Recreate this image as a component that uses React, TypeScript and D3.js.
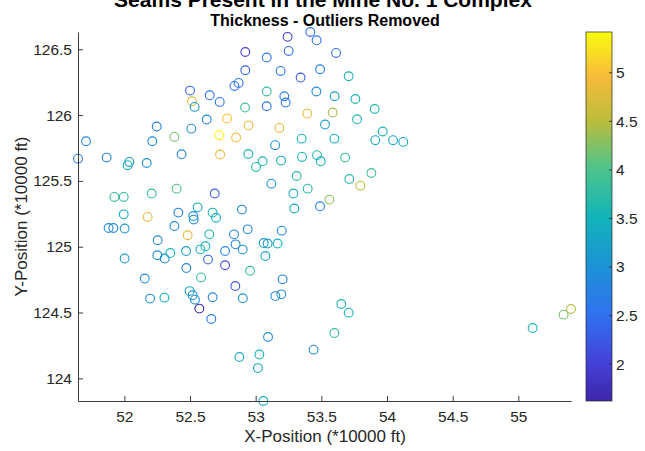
import React, { useEffect, useRef } from "react";
import * as d3 from "d3";

// seam locations (*10000 ft) and thickness
const xPos = [
  52.921, 52.921, 52.838, 52.870, 52.500, 52.650, 52.726, 52.515, 52.535, 52.919, 52.627, 52.782, 52.946, 52.246, 52.510,
  52.381, 52.723, 52.851, 51.708, 52.213, 52.436, 52.729, 52.944, 51.647, 51.865, 52.038, 52.025, 52.170, 53.003, 51.924,
  51.995, 52.208, 52.398, 52.688, 51.995, 52.177, 52.411, 52.525, 52.528, 52.558, 52.672, 52.698, 52.895,
  53.243, 53.416, 53.464, 53.084, 53.251, 53.612, 53.190, 53.342, 53.490, 53.708, 53.084, 53.218, 53.228, 53.462, 53.601,
  53.759, 53.084, 53.393, 53.586, 53.906, 53.772, 53.180, 53.528, 53.350, 53.599, 53.967, 53.911, 54.046, 54.124, 53.148,
  53.053, 53.193, 53.353, 53.467, 53.495, 53.681, 53.312, 53.119, 53.396, 53.287, 53.713, 53.881, 53.797, 53.561, 53.490,
  53.294,
  51.880, 51.916, 52.002, 52.381, 52.647, 52.835, 52.939, 52.482, 52.254, 52.470, 52.579, 52.617, 52.767, 52.847, 52.901,
  52.002, 52.251, 52.307, 52.350, 52.472, 52.637, 52.767, 52.957, 52.584, 52.155, 52.845, 52.196, 52.305, 52.497, 52.520,
  52.538, 52.672, 52.902, 52.571, 52.662, 52.876, 53.028, 53.017,
  53.198, 53.061, 53.091, 53.167, 53.074, 53.205, 53.150, 53.195, 53.652, 53.708, 53.599, 53.094, 53.441, 53.058,
  55.109, 55.345, 55.401,
];

const yPos = [
  126.479, 126.340, 126.221, 126.244, 126.186, 126.150, 126.100, 126.105, 126.062, 126.057, 125.966, 125.973, 125.922, 125.913, 125.897,
  125.834, 125.847, 125.829, 125.801, 125.801, 125.702, 125.700, 125.704, 125.669, 125.677, 125.644, 125.619, 125.636, 125.606, 125.378,
  125.378, 125.404, 125.441, 125.404, 125.246, 125.226, 125.259, 125.233, 125.206, 125.299, 125.259, 125.220, 125.282,
  126.594, 126.631, 126.568, 126.437, 126.487, 126.472, 126.335, 126.285, 126.348, 126.295, 126.179, 126.143, 126.095, 126.179, 126.143,
  126.122, 126.067, 126.011, 126.019, 126.046, 125.968, 125.902, 125.928, 125.821, 125.821, 125.875, 125.809, 125.809, 125.796, 125.771,
  125.649, 125.654, 125.682, 125.695, 125.649, 125.677, 125.537, 125.479, 125.441, 125.404, 125.514, 125.560, 125.464, 125.358, 125.307,
  125.290,
  125.142, 125.142, 125.138, 125.157, 125.094, 125.094, 125.132, 125.087, 125.049, 124.967, 124.980, 125.003, 124.967, 125.018, 124.978,
  124.910, 124.935, 124.910, 124.952, 124.838, 124.902, 124.859, 124.817, 124.767, 124.758, 124.701, 124.606, 124.613, 124.663, 124.631,
  124.598, 124.616, 124.608, 124.530, 124.451, 124.162, 124.181, 124.078,
  125.122, 125.028, 125.024, 125.024, 124.929, 124.752, 124.625, 124.638, 124.565, 124.499, 124.344, 124.314, 124.218, 123.828,
  124.382, 124.484, 124.527,
];

const thickness = [
  2.0, 2.3, 2.5, 2.6, 2.4, 2.5, 2.6, 4.7, 3.1, 3.9, 2.8, 5.0, 4.9, 2.7, 2.9,
  4.2, 5.42, 4.9, 2.8, 3.0, 2.8, 4.9, 3.5, 2.6, 2.8, 3.1, 3.5, 3.0, 3.6, 3.8,
  3.8, 3.8, 4.0, 2.3, 3.4, 4.8, 2.7, 3.0, 2.9, 3.4, 3.6, 3.4, 2.8,
  2.0, 2.5, 2.6, 2.6, 2.5, 2.5, 2.6, 2.3, 2.7, 3.5, 3.8, 2.7, 2.6, 2.9, 3.2,
  3.5, 2.6, 4.8, 4.4, 3.6, 3.6, 4.8, 3.2, 3.5, 3.5, 3.6, 3.3, 3.3, 3.4, 3.0,
  3.6, 3.4, 3.5, 3.7, 3.4, 3.8, 3.7, 3.1, 3.7, 3.5, 3.7, 3.9, 4.5, 4.3, 2.8,
  3.3,
  2.9, 2.9, 3.1, 2.8, 3.6, 2.8, 2.8, 4.8, 2.9, 3.2, 3.6, 3.5, 2.8, 2.8, 3.1,
  3.2, 2.9, 2.9, 3.5, 2.8, 2.4, 2.1, 3.8, 3.8, 2.9, 2.2, 3.0, 3.4, 3.3, 2.9,
  2.9, 2.8, 3.0, 1.62, 2.7, 3.4, 3.5, 3.3,
  2.8, 3.2, 3.2, 3.5, 3.3, 2.8, 2.9, 2.9, 3.6, 3.6, 3.8, 2.9, 2.9, 3.3,
  3.6, 4.2, 4.5,
];

const xTicks = [52, 52.5, 53, 53.5, 54, 54.5, 55];
const yTicks = [124, 124.5, 125, 125.5, 126, 126.5];
const cbTicks = [2, 2.5, 3, 3.5, 4, 4.5, 5];

// parula-ish colormap
const parulaPos = [0, 0.1, 0.23, 0.365, 0.5, 0.63, 0.76, 0.88, 1];
const parulaCol = ["#3e26a8", "#4440d8", "#3070f0", "#1c92d6", "#12b4b8", "#4cc38a", "#bbbd3c", "#f9bb3a", "#f9fb0e"];

const FONT = "'Liberation Sans', Arial, sans-serif";
const INK = "#262626";

export default function App() {
  const ref = useRef<SVGSVGElement>(null);

  useEffect(() => {
    const svg = d3.select(ref.current);
    svg.selectAll("*").remove();

    const left = 78, right = 571, top = 32, bottom = 401;
    const data = xPos.map((x, i) => ({ x, y: yPos[i], t: thickness[i] }));

    const x = d3.scaleLinear().domain(d3.extent(xPos) as [number, number]).range([left, right]);
    const y = d3.scaleLinear().domain(d3.extent(yPos) as [number, number]).range([bottom, top]);
    const tExt = d3.extent(thickness) as [number, number];
    const norm = d3.scaleLinear().domain(tExt).range([0, 1]);
    const cmap = d3.scaleLinear<string>().domain(parulaPos).range(parulaCol).interpolate(d3.interpolateRgb);
    const color = (v: number) => cmap(norm(v));

    // points
    svg.append("g")
      .selectAll("circle")
      .data(data)
      .join("circle")
      .attr("cx", d => x(d.x))
      .attr("cy", d => y(d.y))
      .attr("r", 4.4)
      .attr("fill", "none")
      .attr("stroke", d => color(d.t))
      .attr("stroke-width", 1.1);

    // axes, ticks pointing inward
    const xAxis = svg.append("g").attr("transform", `translate(0,${bottom})`)
      .call(d3.axisBottom(x).tickValues(xTicks).tickSizeInner(-5).tickSizeOuter(0).tickPadding(10).tickFormat(d3.format("")));
    const yAxis = svg.append("g").attr("transform", `translate(${left},0)`)
      .call(d3.axisLeft(y).tickValues(yTicks).tickSizeInner(-5).tickSizeOuter(0).tickPadding(6).tickFormat(d3.format("")));
    [xAxis, yAxis].forEach(g => {
      g.select(".domain").attr("stroke", INK).attr("stroke-width", 0.9);
      g.selectAll(".tick line").attr("stroke", INK).attr("stroke-width", 0.9);
      g.selectAll(".tick text").attr("fill", INK).style("font-family", FONT).style("font-size", "15.5px");
    });

    // labels and titles
    svg.append("text").attr("x", 325).attr("y", 442).attr("text-anchor", "middle")
      .style("font-family", FONT).style("font-size", "17px").attr("fill", INK)
      .text("X-Position (*10000 ft)");
    svg.append("text").attr("transform", `translate(27,${(top + bottom) / 2}) rotate(-90)`)
      .attr("text-anchor", "middle").style("font-family", FONT).style("font-size", "17px").attr("fill", INK)
      .text("Y-Position (*10000 ft)");
    svg.append("text").attr("x", 323).attr("y", 7).attr("text-anchor", "middle")
      .style("font-family", FONT).style("font-size", "21px").style("font-weight", "bold").attr("fill", "#000")
      .text("Seams Present in the Mine No. 1 Complex");
    svg.append("text").attr("x", 325).attr("y", 25.5).attr("text-anchor", "middle")
      .style("font-family", FONT).style("font-size", "16px").style("font-weight", "bold").attr("fill", "#000")
      .text("Thickness - Outliers Removed");

    // colorbar
    const cbX = 586, cbW = 26;
    const cy = d3.scaleLinear().domain(tExt).range([bottom, top]);
    const grad = svg.append("defs").append("linearGradient").attr("id", "cbgrad")
      .attr("x1", 0).attr("y1", 1).attr("x2", 0).attr("y2", 0);
    d3.range(0, 1.0001, 0.02).forEach(t => {
      grad.append("stop").attr("offset", t).attr("stop-color", cmap(t));
    });
    svg.append("rect").attr("x", cbX).attr("y", top).attr("width", cbW).attr("height", bottom - top)
      .attr("fill", "url(#cbgrad)").attr("stroke", INK).attr("stroke-width", 0.7);
    const cb = svg.append("g");
    cb.selectAll("line").data(cbTicks).join("line")
      .attr("x1", cbX + cbW).attr("x2", cbX + cbW - 3)
      .attr("y1", d => cy(d)).attr("y2", d => cy(d))
      .attr("stroke", INK).attr("stroke-width", 0.8);
    cb.selectAll("text").data(cbTicks).join("text")
      .attr("x", 616).attr("y", d => cy(d)).attr("dy", "0.35em")
      .style("font-family", FONT).style("font-size", "15.5px").attr("fill", INK)
      .text(d => String(d));
  }, []);

  return (
    <svg ref={ref} width={645} height={451}
      style={{ position: "absolute", left: 0, top: 0, background: "#fff" }} />
  );
}
